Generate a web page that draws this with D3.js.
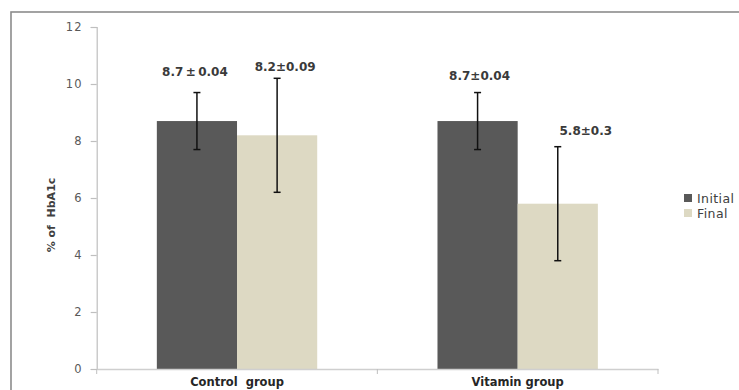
<!DOCTYPE html>
<html>
<head>
<meta charset="utf-8">
<script src="https://cdn.jsdelivr.net/npm/d3@7/dist/d3.min.js"></script>
<style>
  html, body { margin: 0; padding: 0; background: #fff; }
  svg { display: block; }
</style>
</head>
<body>
<svg id="chart" width="739" height="390"></svg>
<script>
// ---- data ----
const categories = ["Control  group", "Vitamin group"];
const seriesNames = ["Initial", "Final"];
const initialValues = [8.7, 8.7];
const finalValues = [8.2, 5.8];
const initialErrors = [1.0, 1.0];
const finalErrors = [2.0, 2.0];
const initialLabels = ["8.7\u2009\u00B1\u20090.04", "8.7\u00B10.04"];
const finalLabels = ["8.2\u00B10.09", "5.8\u00B10.3"];
const yTicks = [0, 2, 4, 6, 8, 10, 12];
const yTitle = "% of  HbA1c";

// ---- layout / style ----
const colors = { Initial: "#595959", Final: "#ddd9c3" };
const plot = { left: 96.7, right: 658, top: 27, bottom: 369 };
const labelShift = { Initial: [[-2, -21], [2, -17]], Final: [[8, -11], [28, -16]] };
const font = "'DejaVu Sans', Verdana, sans-serif";

const svg = d3.select("#chart");

// outer frame (cropped at right and bottom)
svg.append("rect")
  .attr("x", 11).attr("y", 12).attr("width", 760).attr("height", 420)
  .attr("fill", "none").attr("stroke", "#8c8c8c").attr("stroke-width", 1.6);

const x0 = d3.scaleBand().domain(categories).range([plot.left, plot.right]).paddingInner(0).paddingOuter(0);
const x1 = d3.scaleBand().domain(seriesNames).range([0, x0.bandwidth()]).paddingInner(0).paddingOuter(0.75);
const y = d3.scaleLinear().domain([0, 12]).range([plot.bottom, plot.top]);

const rows = seriesNames.map(s => ({
  name: s,
  values: s === "Initial" ? initialValues : finalValues,
  errors: s === "Initial" ? initialErrors : finalErrors,
  labels: s === "Initial" ? initialLabels : finalLabels
}));

// y axis
const yAxis = d3.axisLeft(y).tickValues(yTicks).tickSize(6).tickPadding(8).tickFormat(d3.format("d"));
const gy = svg.append("g").attr("transform", `translate(${plot.left},0)`).call(yAxis);
gy.select(".domain").attr("stroke", "#bfbfbf").attr("stroke-width", 1.2);
gy.selectAll(".tick line").attr("stroke", "#bfbfbf").attr("stroke-width", 1.2);
gy.selectAll(".tick text").attr("fill", "#595959").attr("font-family", font)
  .attr("font-size", 11.5).attr("letter-spacing", 1.2);

// bars
rows.forEach(r => {
  svg.append("g").selectAll("rect")
    .data(categories.map((c, i) => ({ c, v: r.values[i] })))
    .join("rect")
    .attr("x", d => x0(d.c) + x1(r.name))
    .attr("y", d => y(d.v))
    .attr("width", x1.bandwidth())
    .attr("height", d => y(0) - y(d.v))
    .attr("fill", colors[r.name]);
});

// x axis
const xAxis = d3.axisBottom(x0).tickSize(0);
const gx = svg.append("g").attr("transform", `translate(0,${plot.bottom})`).call(xAxis);
gx.select(".domain").attr("stroke", "#cfcfcf").attr("stroke-width", 1.6);
gx.selectAll(".tick text").attr("fill", "#262626").attr("font-family", font)
  .attr("font-size", 11.5).attr("font-weight", "bold").style("white-space", "pre")
  .attr("y", 16.5).attr("dy", 0);
// category boundary ticks
const bounds = [plot.left].concat(categories.map(c => x0(c) + x0.bandwidth()));
gx.selectAll("line.bnd").data(bounds).join("line").attr("class", "bnd")
  .attr("x1", d => d).attr("x2", d => d).attr("y1", 0).attr("y2", 5)
  .attr("stroke", "#bfbfbf").attr("stroke-width", 1);

// error bars + labels
rows.forEach(r => {
  categories.forEach((c, i) => {
    const cx = x0(c) + x1(r.name) + x1.bandwidth() / 2;
    const v = r.values[i], e = r.errors[i];
    const g = svg.append("g").attr("stroke", "#111").attr("stroke-width", 1.5);
    g.append("line").attr("x1", cx).attr("x2", cx).attr("y1", y(v + e)).attr("y2", y(v - e));
    g.append("line").attr("x1", cx - 3.5).attr("x2", cx + 3.5).attr("y1", y(v + e)).attr("y2", y(v + e));
    g.append("line").attr("x1", cx - 3.5).attr("x2", cx + 3.5).attr("y1", y(v - e)).attr("y2", y(v - e));
    const sh = labelShift[r.name][i];
    svg.append("text")
      .attr("x", cx + sh[0]).attr("y", y(v + e) + sh[1])
      .attr("text-anchor", "middle").attr("dominant-baseline", "central")
      .attr("font-family", font).attr("font-size", 12).attr("font-weight", "bold")
      .attr("fill", "#3a3a3a").style("white-space", "pre")
      .text(r.labels[i]);
  });
});

// y title
svg.append("text")
  .attr("transform", `translate(51,215) rotate(-90)`)
  .attr("text-anchor", "middle").attr("dominant-baseline", "central")
  .attr("font-family", font).attr("font-size", 11).attr("font-weight", "bold")
  .attr("fill", "#404040").style("white-space", "pre")
  .text(yTitle);

// legend
const lg = svg.append("g").attr("transform", "translate(684,194)");
seriesNames.forEach((s, i) => {
  lg.append("rect").attr("x", 0).attr("y", i * 15).attr("width", 8).attr("height", 8).attr("fill", colors[s]);
  lg.append("text").attr("x", 13).attr("y", i * 15 + 4).attr("dominant-baseline", "central")
    .attr("font-family", font).attr("font-size", 12.5).attr("letter-spacing", 0.4)
    .attr("fill", "#404040").text(s);
});
</script>
</body>
</html>
